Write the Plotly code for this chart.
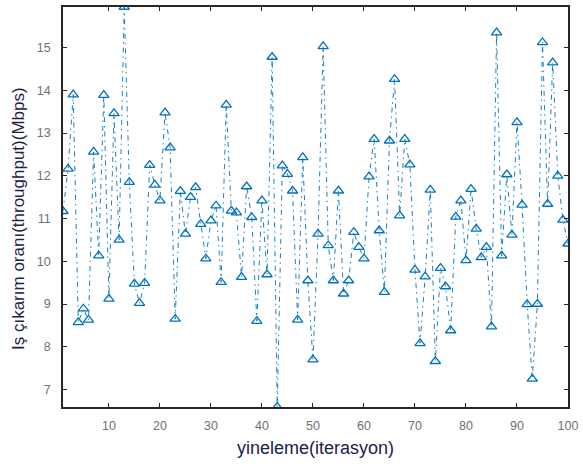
import plotly.graph_objects as go

iterations = list(range(1, 101))
throughput = [
    11.17, 12.16, 13.90, 8.57, 8.89, 8.63, 12.56, 10.13, 13.89, 9.12,
    13.46, 10.50, 15.95, 11.85, 9.47, 9.02, 9.49, 12.25, 11.79, 11.42,
    13.48, 12.66, 8.65, 11.64, 10.64, 11.50, 11.73, 10.87, 10.06, 10.95,
    11.30, 9.51, 13.66, 11.18, 11.14, 9.63, 11.75, 11.03, 8.60, 11.42,
    9.69, 14.78, 6.59, 12.24, 12.04, 11.65, 8.63, 12.43, 9.55, 7.70,
    10.64, 15.03, 10.37, 9.55, 11.65, 9.24, 9.55, 10.68, 10.33, 10.06,
    11.98, 12.86, 10.72, 9.28, 12.82, 14.26, 11.07, 12.86, 12.26, 9.80,
    8.08, 9.64, 11.67, 7.66, 9.84, 9.41, 8.38, 11.04, 11.42, 10.02,
    11.69, 10.76, 10.09, 10.33, 8.47, 15.35, 10.13, 12.03, 10.62, 13.25,
    11.32, 8.99, 7.25, 9.00, 15.12, 11.34, 14.65, 12.00, 10.97, 10.41,
]
x_ticks = [10, 20, 30, 40, 50, 60, 70, 80, 90, 100]
y_ticks = [7, 8, 9, 10, 11, 12, 13, 14, 15]
x_title = "yineleme(iterasyon)"
y_title = "Iş çıkarım oranı(throughput)(Mbps)"

blue = "#0072BD"
fig = go.Figure()
fig.add_trace(go.Scatter(
    x=iterations, y=throughput, mode="lines+markers",
    line=dict(color=blue, width=0.9, dash="5px,4px,1.5px,4px"),
    marker=dict(symbol="triangle-up-open", size=9, color=blue, line=dict(color=blue, width=1.3)),
    showlegend=False,
))

axis_common = dict(
    showline=True, linecolor="#262626", linewidth=1.5, mirror="ticks",
    ticks="inside", ticklen=4, tickcolor="#262626", tickwidth=1,
    showgrid=False, zeroline=False,
    tickfont=dict(family="Liberation Sans, Arial", size=12.5, color="#707070"),
)
fig.update_xaxes(range=[1, 100], tickvals=x_ticks, ticktext=[str(v) for v in x_ticks],
                 ticklabelstandoff=6, ticklabeloverflow="allow", **axis_common)
fig.update_yaxes(range=[6.59, 15.95], tickvals=y_ticks, ticktext=[str(v) for v in y_ticks],
                 ticklabelstandoff=8, **axis_common)

fig.update_layout(
    width=583, height=468,
    margin=dict(l=63, r=6, t=5, b=61),
    paper_bgcolor="white", plot_bgcolor="white",
    annotations=[
        dict(text=x_title, xref="paper", yref="paper", x=0.5, y=0, yshift=-29,
             xanchor="center", yanchor="top", showarrow=False,
             font=dict(family="Liberation Sans, Arial", size=18, color="#20204a")),
        dict(text=y_title, xref="paper", yref="paper", x=0, y=0.47, xshift=-45,
             xanchor="center", yanchor="middle", textangle=-90, showarrow=False,
             font=dict(family="Liberation Sans, Arial", size=17, color="#20204a")),
    ],
)
fig.write_html("out.html", config={"displayModeBar": False},
               post_script="document.body.style.margin='0';document.body.style.overflow='hidden';")
